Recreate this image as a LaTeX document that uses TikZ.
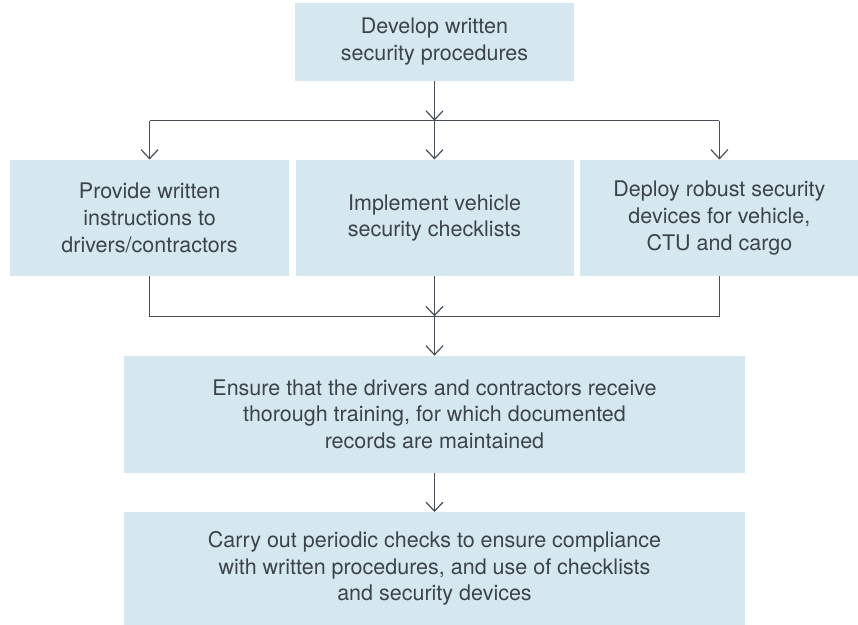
\documentclass[tikz,border=0pt]{standalone}
\usepackage{fontspec}
\setmainfont{TeX Gyre Heros}
\usetikzlibrary{positioning,arrows.meta}
\definecolor{boxblue}{RGB}{214,232,239}
\definecolor{textgray}{RGB}{60,67,74}
\definecolor{linegray}{RGB}{72,79,87}
\begin{document}
\begin{tikzpicture}[x=1pt, y=1pt, node distance = 6pt,
	stepbox/.style = {rectangle, fill=boxblue, text=textgray, align=center, inner sep=0pt,
		font=\fontsize{21.5}{26.7}\selectfont},
	link/.style = {draw=linegray, line width=1.2pt},
	arr/.style = {link, -{Straight Barb[length=9pt, width=17pt, line width=1.2pt]}}]
	\useasboundingbox (0,0) rectangle (858,-624);
	\node (Develop) [stepbox, minimum width=279pt, minimum height=77.7pt] at (434.5,-41.85) {Develop written\\security procedures};
	\node (Checklists) [stepbox, minimum width=278pt, minimum height=116.4pt, below = 78.6pt of Develop] {Implement vehicle\\security checklists};
	\node (Instructions) [stepbox, minimum width=279pt, minimum height=116.4pt, left = of Checklists] {Provide written\\instructions to\\drivers/contractors};
	\node (Devices) [stepbox, minimum width=279pt, minimum height=116.4pt, right = of Checklists] {Deploy robust security\\devices for vehicle,\\CTU and cargo};
	\node (Training) [stepbox, minimum width=621pt, minimum height=116.7pt, below = 79.3pt of Checklists] {Ensure that the drivers and contractors receive\\thorough training, for which documented\\records are maintained};
	\node (Compliance) [stepbox, minimum width=621pt, minimum height=112.3pt, below = 39.3pt of Training] {Carry out periodic checks to ensure compliance\\with written procedures, and use of checklists\\and security devices};
	\coordinate [below = 39.8pt of Develop.south] (split);
	\coordinate [below = 40pt of Checklists.south] (join);
	\draw [arr] (Develop) -- (split);
	\draw [link] (split -| Instructions) -- (split -| Devices);
	\draw [arr] (split -| Instructions) -- (Instructions);
	\draw [arr] (split) -- (Checklists);
	\draw [arr] (split -| Devices) -- (Devices);
	\draw [link] (Instructions) -- (join -| Instructions) -- (join -| Devices) -- (Devices);
	\draw [arr] (Checklists) -- (join);
	\draw [arr] (join) -- (Training);
	\draw [arr] (Training) -- (Compliance);
\end{tikzpicture}
\end{document}
